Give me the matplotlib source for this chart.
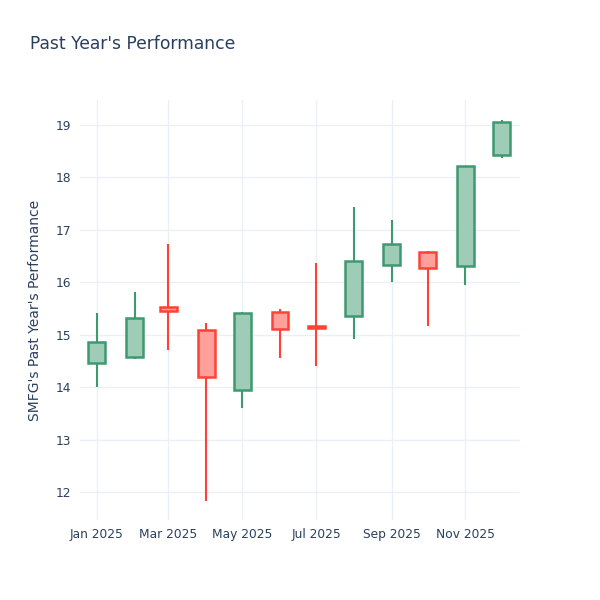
import numpy as np
import matplotlib
matplotlib.use("Agg")
import matplotlib.pyplot as plt
import matplotlib.dates as mdates
from datetime import datetime, timedelta

# monthly OHLC
months = ["2025-01-01", "2025-02-01", "2025-03-01", "2025-04-01", "2025-05-01", "2025-06-01",
          "2025-07-01", "2025-08-01", "2025-09-01", "2025-10-01", "2025-11-01", "2025-12-01"]
opens = [14.46, 14.58, 15.53, 15.09, 13.95, 15.44, 15.16, 15.35, 16.33, 16.58, 16.31, 18.42]
highs = [15.41, 15.82, 16.73, 15.22, 15.44, 15.49, 16.36, 17.44, 17.19, 16.59, 18.22, 19.09]
lows = [14.01, 14.53, 14.71, 11.84, 13.60, 14.55, 14.40, 14.92, 16.01, 15.17, 15.94, 18.37]
closes = [14.87, 15.31, 15.46, 14.20, 15.41, 15.10, 15.13, 16.40, 16.73, 16.27, 18.21, 19.05]

title = "Past Year's Performance"
ylabel = "SMFG's Past Year's Performance"

inc_line, inc_fill = "#3D9970", "#9ECCB7"
dec_line, dec_fill = "#FF4136", "#FFA09A"
text_col = "#2a3f5f"
grid_col = "#EBF0F8"

dates = [datetime.strptime(m, "%Y-%m-%d") for m in months]
x = mdates.date2num(dates)

fig = plt.figure(figsize=(6, 6), dpi=100)
ax = fig.add_axes([80 / 600, 80 / 600, 440 / 600, 420 / 600])

width = 14
for xi, o, h, l, c in zip(x, opens, highs, lows, closes):
    up = c >= o
    lc = inc_line if up else dec_line
    fc = inc_fill if up else dec_fill
    top, bot = max(o, c), min(o, c)
    ax.plot([xi, xi], [top, h], color=lc, lw=1.5, zorder=2, solid_capstyle="butt")
    ax.plot([xi, xi], [l, bot], color=lc, lw=1.5, zorder=2, solid_capstyle="butt")
    ax.bar(xi, top - bot, bottom=bot, width=width, color=fc, edgecolor=lc,
           linewidth=1.8, zorder=3)

ax.set_xlim(x[0] - 14, x[-1] + 15)
ax.set_ylim(11.47, 19.47)
ax.set_yticks(range(12, 20))

ax.xaxis.set_major_locator(mdates.MonthLocator(bymonth=[1, 3, 5, 7, 9, 11]))
ax.xaxis.set_major_formatter(mdates.DateFormatter("%b %Y"))

ax.grid(True, color=grid_col, lw=1, zorder=0)
ax.set_axisbelow(True)
for s in ax.spines.values():
    s.set_visible(False)
ax.tick_params(length=0, labelsize=8.8, colors=text_col, pad=6)

ax.set_ylabel(ylabel, fontsize=10, color=text_col, labelpad=10)
fig.text(30 / 600, 1 - 44 / 600, title, fontsize=12.3, color=text_col, va="center")

fig.savefig("out.png", dpi=100)
